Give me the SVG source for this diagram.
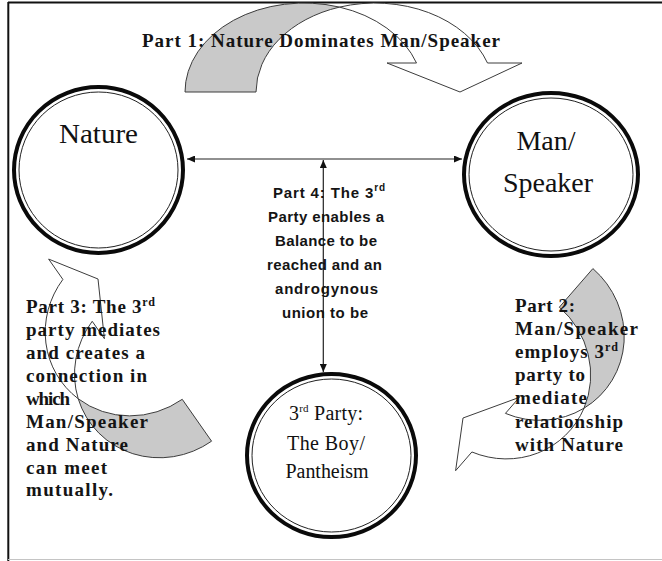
<svg xmlns="http://www.w3.org/2000/svg" xmlns:xlink="http://www.w3.org/1999/xlink" width="662" height="561" viewBox="0 0 662 561">
  <style>
    .frame { stroke: #111; stroke-width: 2; fill: none; }
    .node-outer { fill: #fff; stroke: #0a0a0a; stroke-width: 4; }
    .node-inner { fill: none; stroke: #222; stroke-width: 1; }
    .node-text { fill: #111; }
    .label { font-weight: bold; font-size: 19px; fill: #141414; }
    .label-sans { font-weight: bold; font-size: 15px; fill: #141414; }
    .band-back { fill: #c9c9c9; stroke: #3c3c3c; stroke-width: 1; stroke-linejoin: round; }
    .band-front { fill: #fff; stroke: #3c3c3c; stroke-width: 1; stroke-linejoin: miter; }
    .connector { stroke: #222; stroke-width: 1.2; fill: none; }
  </style>
  <defs>
    <marker id="head" viewBox="0 0 8 7" markerWidth="8" markerHeight="7" refX="8" refY="3.5" markerUnits="userSpaceOnUse" orient="auto-start-reverse">
      <path d="M0,0 L8,3.5 L0,7 Z" fill="#111"/>
    </marker>
    <!-- curved block arrow: tip at origin pointing down, base on the left -->
    <g id="curved-arrow">
      <path class="band-front" vector-effect="non-scaling-stroke" d="M -120.5,-84.9 A 119 89 0 0 1 27.5,-29 L 62,-29 L 0,0 L -73,-29 L -43.5,-29 A 119 89 0 0 0 -120.5,-84.9 Z"/>
      <path class="band-back" vector-effect="non-scaling-stroke" d="M -275,0 A 119 89 0 0 1 -120.5,-84.9 A 119 89 0 0 0 -204,0 Z"/>
    </g>
  </defs>

  <rect width="662" height="561" fill="#fff"/>

  <!-- page frame -->
  <g id="frame">
    <line class="frame" x1="8" y1="2.5" x2="662" y2="2.5" stroke-width="2.5"/>
    <line class="frame" x1="8.3" y1="2" x2="8.3" y2="561"/>
    <line x1="8" y1="559.5" x2="662" y2="559.5" stroke="#c4c4c4" stroke-width="1"/>
  </g>

  <!-- curved block arrows -->
  <g id="cycle-arrows">
    <use xlink:href="#curved-arrow" transform="translate(460,92)"/>
    <use xlink:href="#curved-arrow" transform="translate(463,418) rotate(131) scale(0.72,1)"/>
    <use xlink:href="#curved-arrow" transform="translate(98,279) rotate(-125) scale(0.72,1)"/>
  </g>

  <!-- straight connectors -->
  <g id="connectors">
    <line class="connector" x1="187" y1="159" x2="462" y2="159" marker-start="url(#head)" marker-end="url(#head)"/>
    <line class="connector" x1="323.3" y1="160" x2="323.3" y2="372" marker-start="url(#head)" marker-end="url(#head)"/>
  </g>

  <!-- nodes -->
  <g id="node-nature" font-family="Liberation Serif, Times New Roman, serif">
    <ellipse class="node-outer" cx="98.5" cy="170" rx="84.5" ry="83"/>
    <ellipse class="node-inner" cx="98.5" cy="170" rx="79.5" ry="78"/>
    <text class="node-text" x="98.5" y="143" font-size="28" text-anchor="middle" textLength="79" lengthAdjust="spacingAndGlyphs">Nature</text>
  </g>

  <g id="node-man-speaker" font-family="Liberation Serif, Times New Roman, serif">
    <ellipse class="node-outer" cx="551" cy="174.5" rx="87" ry="81.5"/>
    <ellipse class="node-inner" cx="551" cy="174.5" rx="82" ry="76.5"/>
    <text class="node-text" x="546" y="150" font-size="28" text-anchor="middle">Man/</text>
    <text class="node-text" x="548" y="192" font-size="28" text-anchor="middle">Speaker</text>
  </g>

  <g id="node-third-party" font-family="Liberation Serif, Times New Roman, serif">
    <ellipse class="node-outer" cx="331.5" cy="455.5" rx="84.5" ry="81.5"/>
    <ellipse class="node-inner" cx="331.5" cy="455.5" rx="79.5" ry="76.5"/>
    <text class="node-text" x="326" y="420" font-size="20" text-anchor="middle" textLength="74">3<tspan font-size="11" dy="-8">rd</tspan><tspan dy="8"> Party:</tspan></text>
    <text class="node-text" x="326" y="450" font-size="20" text-anchor="middle" textLength="78">The Boy/</text>
    <text class="node-text" x="327" y="478" font-size="20" text-anchor="middle" textLength="83">Pantheism</text>
  </g>

  <!-- part labels -->
  <g id="label-part1" font-family="Liberation Serif, Times New Roman, serif">
    <text class="label" x="142" y="47" font-size="20" textLength="358">Part 1: Nature Dominates Man/Speaker</text>
  </g>

  <g id="label-part2" font-family="Liberation Serif, Times New Roman, serif">
    <text class="label" x="515" y="312" textLength="60">Part 2:</text>
    <text class="label" x="515" y="335" textLength="123">Man/Speaker</text>
    <text class="label" x="515" y="358" textLength="103">employs 3<tspan font-size="12" dy="-7">rd</tspan></text>
    <text class="label" x="515" y="381" textLength="70">party to</text>
    <text class="label" x="515" y="404" textLength="72">mediate</text>
    <text class="label" x="515" y="428" textLength="108">relationship</text>
    <text class="label" x="515" y="451" textLength="108">with Nature</text>
  </g>

  <g id="label-part3" font-family="Liberation Serif, Times New Roman, serif">
    <text class="label" x="26" y="313" textLength="129">Part 3: The 3<tspan font-size="12" dy="-7">rd</tspan></text>
    <text class="label" x="26" y="336" textLength="134">party mediates</text>
    <text class="label" x="26" y="359" textLength="119">and creates a</text>
    <text class="label" x="26" y="382" textLength="121">connection in</text>
    <text class="label" x="26" y="405" textLength="44">which</text>
    <text class="label" x="26" y="428" textLength="122">Man/Speaker</text>
    <text class="label" x="26" y="451" textLength="102">and Nature</text>
    <text class="label" x="26" y="474" textLength="81">can meet</text>
    <text class="label" x="26" y="496" textLength="87">mutually.</text>
  </g>

  <g id="label-part4" font-family="Liberation Sans, Arial, sans-serif">
    <text class="label-sans" x="329" y="198" text-anchor="middle" textLength="112">Part 4: The 3<tspan font-size="10" dy="-7">rd</tspan></text>
    <text class="label-sans" x="326" y="222" text-anchor="middle" textLength="116">Party enables a</text>
    <text class="label-sans" x="326" y="246" text-anchor="middle" textLength="102">Balance to be</text>
    <text class="label-sans" x="324.5" y="270" text-anchor="middle" textLength="115">reached and an</text>
    <text class="label-sans" x="326.5" y="294" text-anchor="middle" textLength="103">androgynous</text>
    <text class="label-sans" x="325" y="318" text-anchor="middle" textLength="86">union to be</text>
  </g>
</svg>
